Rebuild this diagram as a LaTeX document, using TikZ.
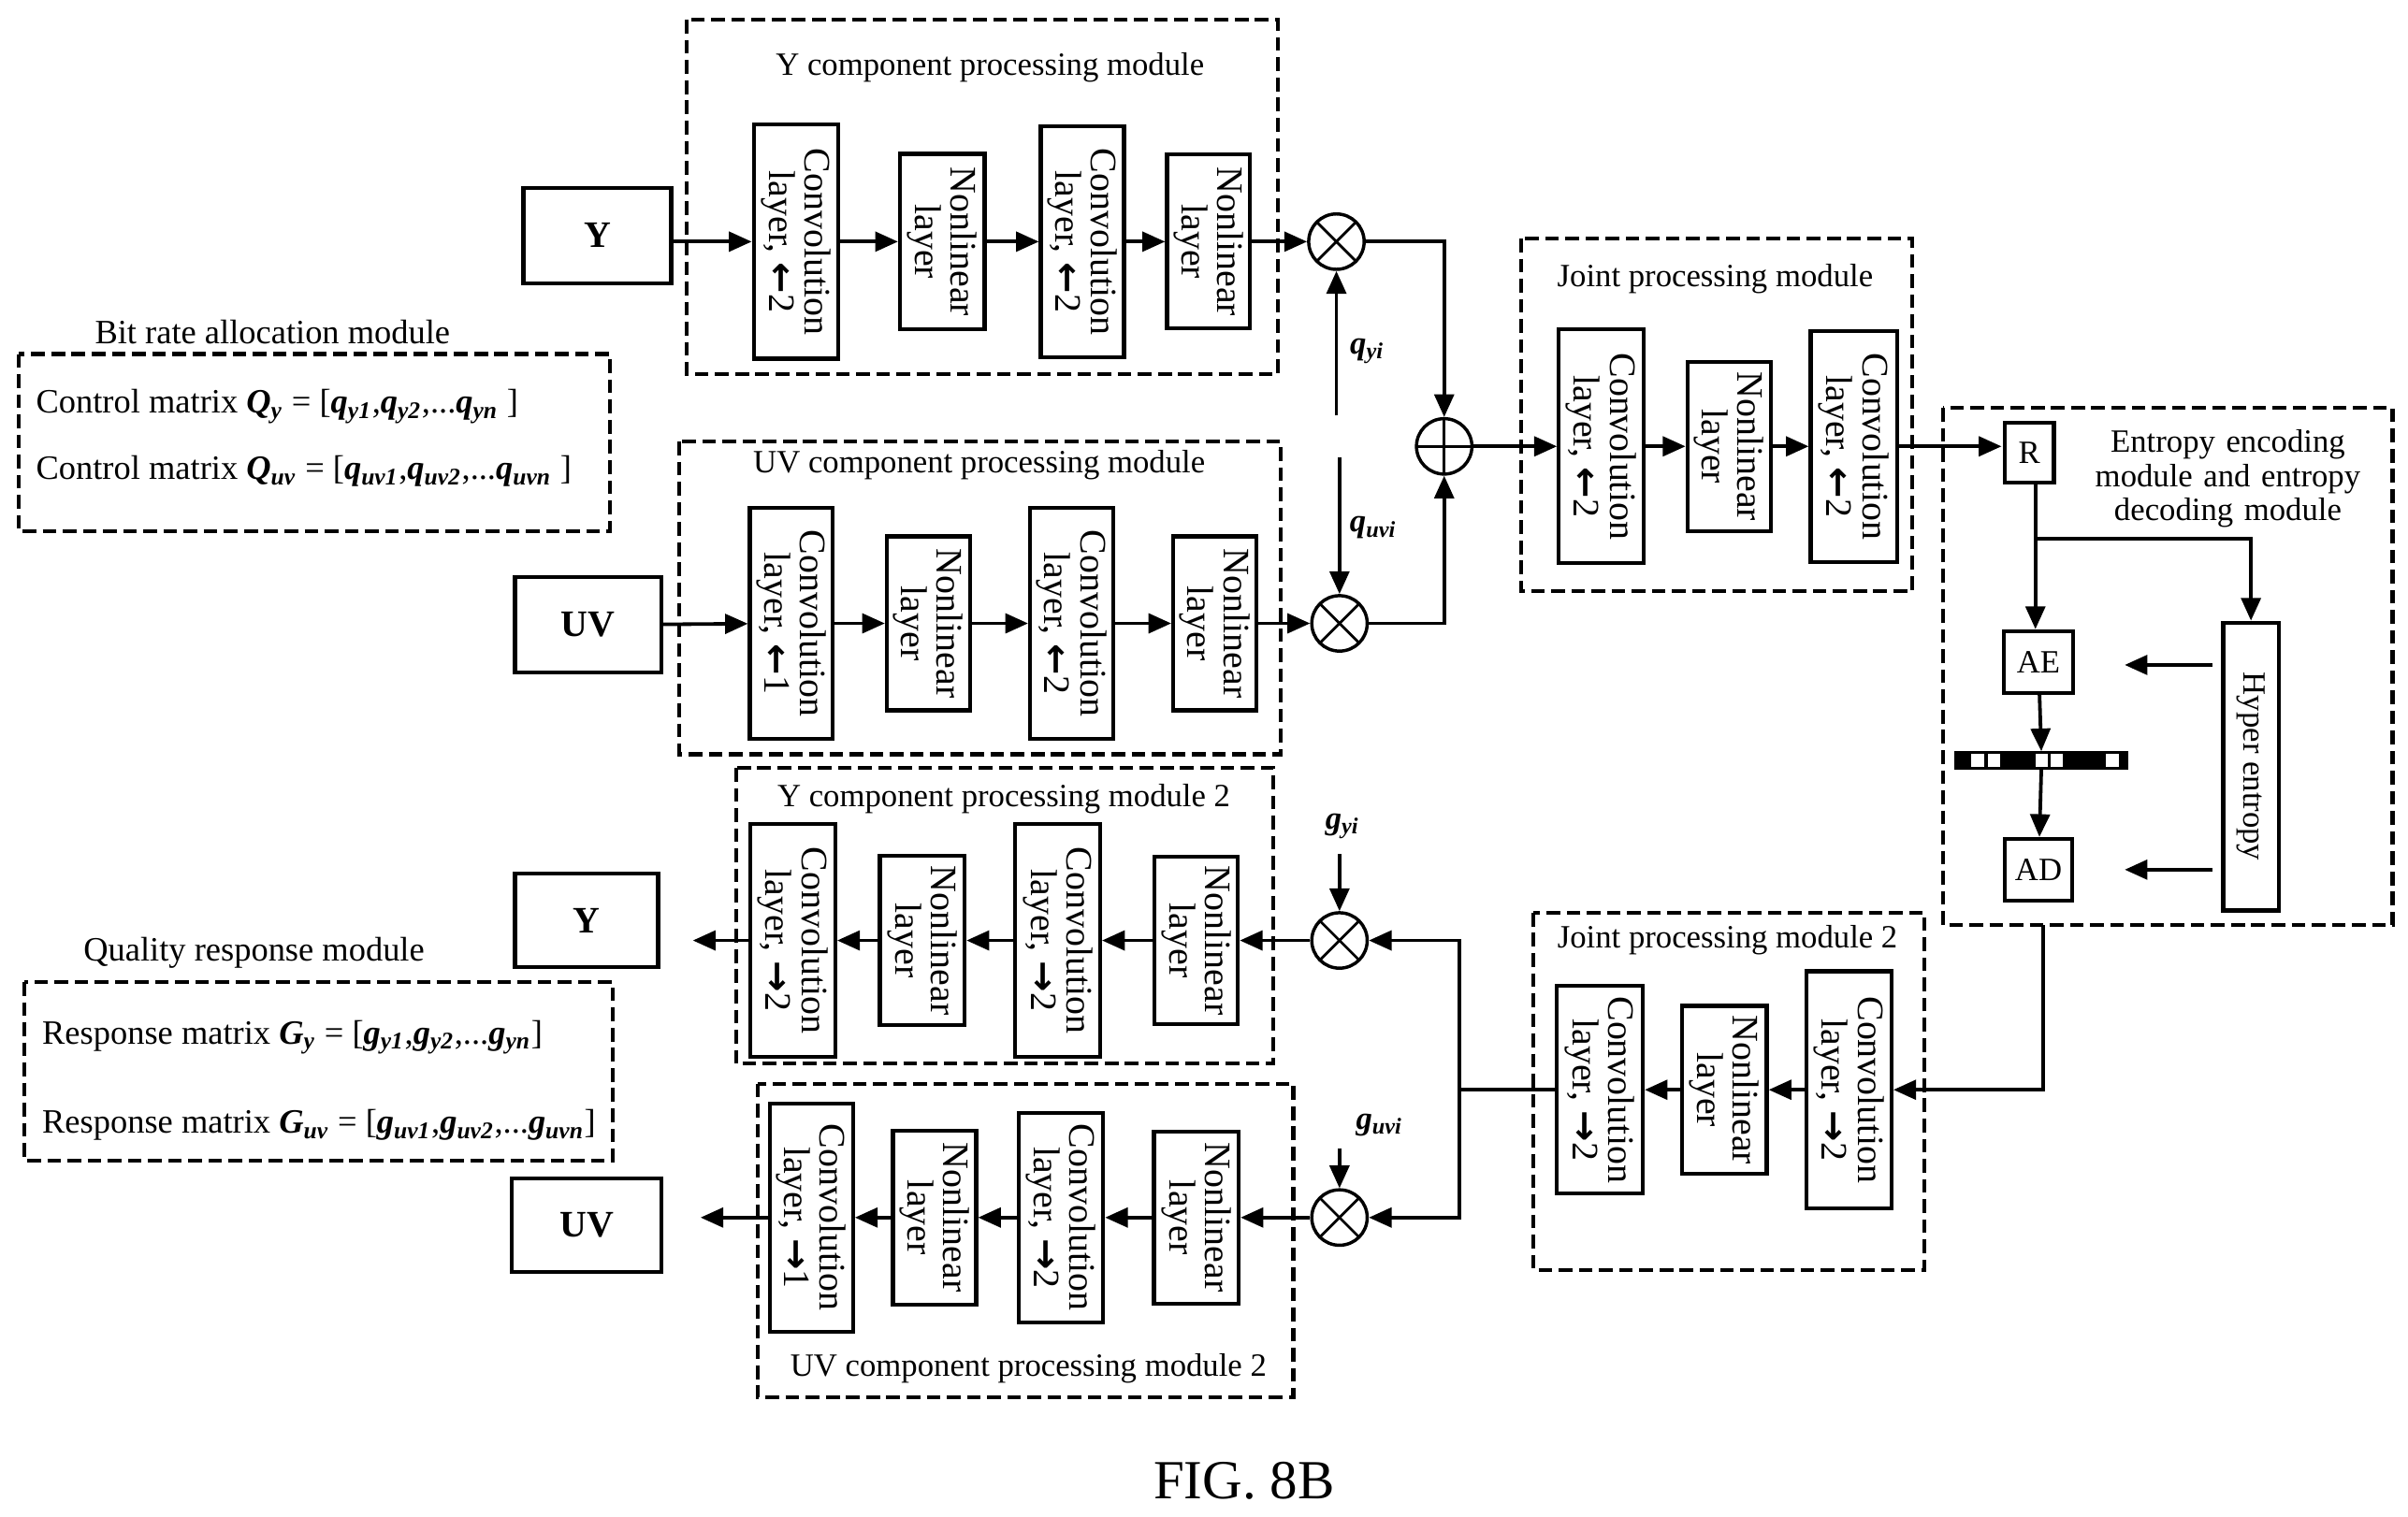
\documentclass[tikz,border=0pt]{standalone}
\usepackage{amsmath}
\usepackage{fontspec}
\setmainfont{Liberation Serif}
\newfontfamily\arrowfont{DejaVu Sans}
\usetikzlibrary{positioning,arrows.meta}

\newcommand{\layerfont}{\fontsize{11.5}{11}\selectfont}
\newcommand{\titlefont}{\fontsize{10}{10.5}\selectfont}
\newcommand{\dn}{{\arrowfont\bfseries ←}}
\newcommand{\up}{{\arrowfont\bfseries →}}
\newcommand{\vq}[2]{\textbf{\textit{#1}\textsubscript{\textit{#2}}}}

\begin{document}
\begin{tikzpicture}[
    x=0.01667cm, y=-0.01667cm,
    layer/.style={draw, line width=1.2pt, align=center, font=\layerfont, rotate=-90, inner sep=1pt},
    iobox/.style={draw, line width=1.2pt, font=\layerfont\bfseries},
    module/.style={draw, line width=1.2pt, dash pattern=on 4.2pt off 2pt},
    mult/.style={draw, circle, line width=1pt, minimum size=0.6cm, inner sep=0pt,
        path picture={\draw[line width=0.8pt] (path picture bounding box.north west) -- (path picture bounding box.south east)
            (path picture bounding box.north east) -- (path picture bounding box.south west);}},
    plus/.style={draw, circle, line width=1pt, minimum size=0.6cm, inner sep=0pt,
        path picture={\draw[line width=0.8pt] (path picture bounding box.north) -- (path picture bounding box.south)
            (path picture bounding box.east) -- (path picture bounding box.west);}},
    arr/.style={-{Triangle[length=7pt,width=6pt]}, line width=1.1pt},
    line/.style={line width=1.1pt},
    title/.style={font=\titlefont},
    matrixtext/.style={anchor=west, font=\fontsize{10.5}{12}\selectfont}
    ]
    \useasboundingbox (0,0) rectangle (1564,985);

    %Module frames
    \draw[module] (446,13) rectangle (830,243);
    \node[title] at (643,44) {Y component processing module};
    \draw[module] (441,287) rectangle (832,490);
    \node[title] at (636,302) {UV component processing module};
    \draw[module] (988,155) rectangle (1242,384);
    \node[title] at (1114,181) {Joint processing module};
    \draw[module] (1262,265) rectangle (1554,601);
    \node[title, align=center, text width=4.6cm] at (1447,311)
        {Entropy encoding\\module and entropy\\decoding module};
    \draw[module] (478,499) rectangle (827,691);
    \node[title] at (652,519) {Y component processing module 2};
    \draw[module] (492,704) rectangle (840,908);
    \node[title] at (668,889) {UV component processing module 2};
    \draw[module] (996,593) rectangle (1250,825);
    \node[title] at (1122,611) {Joint processing module 2};

    %Inputs and outputs
    \node[iobox, minimum width={96*0.01667cm}, minimum height={62*0.01667cm}] (yin) at (388,153) {Y};
    \node[iobox, minimum width={95*0.01667cm}, minimum height={62*0.01667cm}] (uvin) at (382,406) {UV};
    \node[iobox, minimum width={93*0.01667cm}, minimum height={61*0.01667cm}] (yout) at (381,598) {Y};
    \node[iobox, minimum width={97*0.01667cm}, minimum height={61*0.01667cm}] (uvout) at (381,796) {UV};
    \coordinate (yinr) at (436,157);
    \coordinate (youtr) at (450,611);
    \coordinate (uvoutr) at (455,791);

    %Y component
    \node[layer, minimum width={152*0.01667cm}, minimum height={55*0.01667cm}] (yc1) at (517,157) {Convolution\\layer, \dn 2};
    \node[layer, minimum width={114*0.01667cm}, minimum height={55*0.01667cm}] (yn1) at (612,157) {Nonlinear\\layer};
    \node[layer, minimum width={150*0.01667cm}, minimum height={54*0.01667cm}] (yc2) at (703,157) {Convolution\\layer, \dn 2};
    \node[layer, minimum width={113*0.01667cm}, minimum height={54*0.01667cm}] (yn2) at (785,157) {Nonlinear\\layer};
    \node[mult] (ym) at (868,157) {};

    %UV component
    \node[layer, minimum width={150*0.01667cm}, minimum height={54*0.01667cm}] (uvc1) at (514,405) {Convolution\\layer, \dn 1};
    \node[layer, minimum width={113*0.01667cm}, minimum height={54*0.01667cm}] (uvn1) at (603,405) {Nonlinear\\layer};
    \node[layer, minimum width={150*0.01667cm}, minimum height={54*0.01667cm}] (uvc2) at (696,405) {Convolution\\layer, \dn 2};
    \node[layer, minimum width={113*0.01667cm}, minimum height={54*0.01667cm}] (uvn2) at (789,405) {Nonlinear\\layer};
    \node[mult] (uvm) at (870,405) {};

    %Joint processing
    \node[plus] (sum) at (938,290) {};
    \node[layer, minimum width={152*0.01667cm}, minimum height={55*0.01667cm}] (jc1) at (1040,290) {Convolution\\layer, \dn 2};
    \node[layer, minimum width={110*0.01667cm}, minimum height={54*0.01667cm}] (jn1) at (1123,290) {Nonlinear\\layer};
    \node[layer, minimum width={150*0.01667cm}, minimum height={56*0.01667cm}] (jc2) at (1204,290) {Convolution\\layer, \dn 2};

    %Entropy coding
    \node[draw, line width=1.2pt, font=\titlefont, minimum width={32*0.01667cm}, minimum height={39*0.01667cm}, inner sep=1pt] (R) at (1318,294) {R};
    \node[draw, line width=1.2pt, font=\titlefont, minimum width={45*0.01667cm}, minimum height={40*0.01667cm}, inner sep=1pt] (AE) at (1324,430) {AE};
    \node[draw, line width=1.2pt, font=\titlefont, minimum width={44*0.01667cm}, minimum height={40*0.01667cm}, inner sep=1pt] (AD) at (1324,565) {AD};
    \node[layer, font=\titlefont, minimum width={187*0.01667cm}, minimum height={36*0.01667cm}] (hyp) at (1462,498) {Hyper entropy};
    \node[draw, fill=black, minimum width={112*0.01667cm}, minimum height={11*0.01667cm}, inner sep=0pt] (bits) at (1326,494) {};
    \foreach \xa/\xb in {1280/1289, 1291/1299, 1322/1330, 1332/1340, 1368/1376}
        \fill[white] (\xa,490) rectangle (\xb,498);
    \coordinate (rr) at (1300,290);
    \coordinate (rb) at (1322,314);
    \coordinate (br) at (1322,350);
    \coordinate (ha1) at (1437,432);
    \coordinate (ha2) at (1380,432);
    \coordinate (hd1) at (1437,565);
    \coordinate (hd2) at (1380,565);
    \coordinate (eo) at (1327,601);

    %Joint processing 2
    \node[layer, minimum width={154*0.01667cm}, minimum height={55*0.01667cm}] (kc1) at (1201,708) {Convolution\\layer, \up 2};
    \node[layer, minimum width={109*0.01667cm}, minimum height={55*0.01667cm}] (kn1) at (1120,708) {Nonlinear\\layer};
    \node[layer, minimum width={135*0.01667cm}, minimum height={56*0.01667cm}] (kc2) at (1039,708) {Convolution\\layer, \up 2};
    \coordinate (jn) at (948,708);

    %Y component 2
    \node[mult] (y2m) at (870,611) {};
    \node[layer, minimum width={109*0.01667cm}, minimum height={54*0.01667cm}] (y2n1) at (777,611) {Nonlinear\\layer};
    \node[layer, minimum width={151*0.01667cm}, minimum height={55*0.01667cm}] (y2c1) at (687,611) {Convolution\\layer, \up 2};
    \node[layer, minimum width={110*0.01667cm}, minimum height={55*0.01667cm}] (y2n2) at (599,611) {Nonlinear\\layer};
    \node[layer, minimum width={151*0.01667cm}, minimum height={55*0.01667cm}] (y2c2) at (515,611) {Convolution\\layer, \up 2};

    %UV component 2
    \node[mult] (uv2m) at (870,791) {};
    \node[layer, minimum width={112*0.01667cm}, minimum height={55*0.01667cm}] (uv2n1) at (777,791) {Nonlinear\\layer};
    \node[layer, minimum width={136*0.01667cm}, minimum height={55*0.01667cm}] (uv2c1) at (689,791) {Convolution\\layer, \up 2};
    \node[layer, minimum width={113*0.01667cm}, minimum height={54*0.01667cm}] (uv2n2) at (607,791) {Nonlinear\\layer};
    \node[layer, minimum width={148*0.01667cm}, minimum height={54*0.01667cm}] (uv2c2) at (527,791) {Convolution\\layer, \up 1};

    %Weights
    \coordinate (qy) at (868,270);
    \node at (888,228) {\vq{q}{yi}};
    \coordinate (quv) at (870,297);
    \node at (892,343) {\vq{q}{uvi}};
    \coordinate (gy) at (870,555);
    \node at (872,537) {\vq{g}{yi}};
    \coordinate (guv) at (870,746);
    \node at (896,731) {\vq{g}{uvi}};

    %Lines
    \draw[arr] (yinr) -- (yc1);
    \draw[arr] (yc1) -- (yn1);
    \draw[arr] (yn1) -- (yc2);
    \draw[arr] (yc2) -- (yn2);
    \draw[arr] (yn2) -- (ym);
    \draw[arr] (uvin) -- (uvc1);
    \draw[arr] (uvc1) -- (uvn1);
    \draw[arr] (uvn1) -- (uvc2);
    \draw[arr] (uvc2) -- (uvn2);
    \draw[arr] (uvn2) -- (uvm);
    \draw[arr] (qy) -- (ym);
    \draw[arr] (quv) -- (uvm);
    \draw[arr] (ym) -| (sum);
    \draw[arr] (uvm) -| (sum);
    \draw[arr] (sum) -- (jc1);
    \draw[arr] (jc1) -- (jn1);
    \draw[arr] (jn1) -- (jc2);
    \draw[arr] (jc2) -- (rr);
    \draw[arr] (rb) -- (rb |- AE.north);
    \draw[arr] (br) -| (hyp);
    \draw[arr] (ha1) -- (ha2);
    \draw[arr] (hd1) -- (hd2);
    \draw[arr] (AE) -- (bits);
    \draw[arr] (bits) -- (AD);
    \draw[arr] (eo) |- (kc1);
    \draw[arr] (kc1) -- (kn1);
    \draw[arr] (kn1) -- (kc2);
    \draw[line] (kc2) -- (jn);
    \draw[arr] (jn) |- (y2m);
    \draw[arr] (jn) |- (uv2m);
    \draw[arr] (gy) -- (y2m);
    \draw[arr] (guv) -- (uv2m);
    \draw[arr] (y2m) -- (y2n1);
    \draw[arr] (y2n1) -- (y2c1);
    \draw[arr] (y2c1) -- (y2n2);
    \draw[arr] (y2n2) -- (y2c2);
    \draw[arr] (y2c2) -- (youtr);
    \draw[arr] (uv2m) -- (uv2n1);
    \draw[arr] (uv2n1) -- (uv2c1);
    \draw[arr] (uv2c1) -- (uv2n2);
    \draw[arr] (uv2n2) -- (uv2c2);
    \draw[arr] (uv2c2) -- (uvoutr);

    %Bit rate allocation and quality response
    \node[font=\fontsize{10.5}{12}\selectfont] at (177,216) {Bit rate allocation module};
    \draw[module] (12,230) rectangle (396,345);
    \node[matrixtext] (ctrly) at (16,264)
        {Control matrix \vq{Q}{y} = [\vq{q}{y1},\vq{q}{y2},...\vq{q}{yn} ]};
    \node[matrixtext] (ctrluv) at (16,306)
        {Control matrix \vq{Q}{uv} = [\vq{q}{uv1},\vq{q}{uv2},...\vq{q}{uvn} ]};
    \node[font=\fontsize{10.5}{12}\selectfont] at (165,619) {Quality response module};
    \draw[module] (16,638) rectangle (398,754);
    \node[matrixtext] (respy) at (20,674)
        {Response matrix \vq{G}{y} = [\vq{g}{y1},\vq{g}{y2},...\vq{g}{yn}]};
    \node[matrixtext] (respuv) at (20,731)
        {Response matrix \vq{G}{uv} = [\vq{g}{uv1},\vq{g}{uv2},...\vq{g}{uvn}]};

    \node[font=\fontsize{17}{18}\selectfont] at (808,962) {FIG. 8B};
\end{tikzpicture}
\end{document}
